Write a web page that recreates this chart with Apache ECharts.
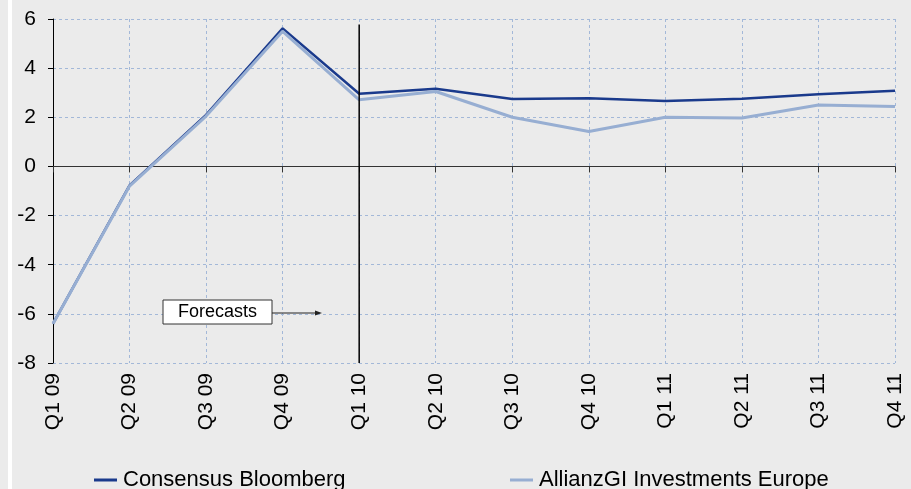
<!DOCTYPE html>
<html><head><meta charset="utf-8">
<script src="https://cdn.jsdelivr.net/npm/echarts@6/dist/echarts.min.js"></script>
<style>html,body{margin:0;padding:0;background:#ebebeb}#c{width:911px;height:489px}</style>
</head><body><div id="c"></div>
<script>
const categories = ['Q1 09','Q2 09','Q3 09','Q4 09','Q1 10','Q2 10','Q3 10','Q4 10','Q1 11','Q2 11','Q3 11','Q4 11'];
const consensus = [-6.4,-0.77,2.1,5.62,2.96,3.16,2.74,2.77,2.66,2.75,2.94,3.08];
const allianz   = [-6.4,-0.8,2.05,5.5,2.71,3.05,2.0,1.42,2.0,1.97,2.5,2.44];
const forecastStart = 'Q1 10';
const forecastLineY = [5.78,-8];
const yTicks = [-8,-6,-4,-2,0,2,4,6];

const chart = echarts.init(document.getElementById('c'));
const font = 'Liberation Sans, Arial, sans-serif';
chart.setOption({
  backgroundColor:'#ebebeb',
  animation:false,
  grid:{left:53,right:16,top:19,bottom:126},
  graphic:[
    {type:'rect',shape:{x:8,y:0,width:4,height:489},style:{fill:'#ffffff'},z:-1},
    {type:'rect',shape:{x:163,y:300,width:109,height:24},style:{fill:'#ffffff',stroke:'#333',lineWidth:1},z:10},
    {type:'text',x:217.5,y:312.5,style:{text:'Forecasts',fill:'#000',font:'18px '+font,align:'center',verticalAlign:'middle'},z:11},
    {type:'line',shape:{x1:272,y1:313,x2:316,y2:313},style:{stroke:'#222',lineWidth:1},z:10},
    {type:'polygon',shape:{points:[[322,313],[315,310.5],[315,315.5]]},style:{fill:'#222'},z:10}
  ],
  legend:[
    {left:89,top:464,itemWidth:23,itemHeight:3,icon:'rect',itemGap:10,data:['Consensus Bloomberg'],textStyle:{fontSize:22,fontFamily:font,color:'#000',padding:[0,0,0,1]}},
    {left:505,top:464,itemWidth:23,itemHeight:3,icon:'rect',itemGap:10,data:['AllianzGI Investments Europe'],textStyle:{fontSize:22,fontFamily:font,color:'#000',padding:[0,0,0,1]}}
  ],
  xAxis:[
    {type:'category',data:categories,boundaryGap:false,position:'bottom',
     axisLine:{show:false,onZero:false},axisTick:{show:false},
     axisLabel:{rotate:90,fontSize:21,fontFamily:font,color:'#000',margin:10},
     splitLine:{show:true,lineStyle:{color:'#a3b8d8',type:[3,3],width:1}}},
    {type:'category',data:categories,boundaryGap:false,position:'bottom',
     axisLine:{show:true,onZero:true,lineStyle:{color:'#333',width:1}},
     axisTick:{show:true,length:6,inside:false,lineStyle:{color:'#333'}},
     axisLabel:{show:false},splitLine:{show:false}}
  ],
  yAxis:{type:'value',min:-8,max:6,interval:2,
    axisLine:{show:true,lineStyle:{color:'#000',width:1}},
    axisTick:{show:true,length:5,lineStyle:{color:'#000'}},
    axisLabel:{fontSize:21,fontFamily:font,color:'#000',margin:17,
      formatter:v=>yTicks.includes(v)?String(v):''},
    splitLine:{show:true,lineStyle:{color:'#a3b8d8',type:[3,3],width:1}}},
  series:[
    {name:'AllianzGI Investments Europe',type:'line',data:allianz,symbol:'none',
     lineStyle:{color:'#97aed2',width:3},itemStyle:{color:'#97aed2'},z:3},
    {name:'Consensus Bloomberg',type:'line',data:consensus,symbol:'none',
     lineStyle:{color:'#1a3a8c',width:2.5},itemStyle:{color:'#1a3a8c'},z:2},
    {name:'forecast',type:'line',data:forecastLineY.map(v=>[forecastStart,v]),symbol:'none',
     lineStyle:{color:'#000',width:1.5},silent:true,z:4}
  ]
});
</script></body></html>
